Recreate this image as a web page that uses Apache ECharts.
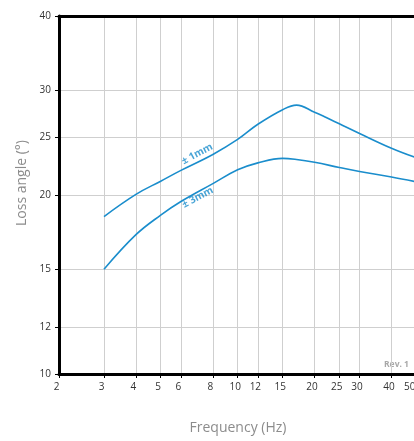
<!DOCTYPE html>
<html>
<head>
<meta charset="utf-8">
<script src="https://cdn.jsdelivr.net/npm/echarts@6/dist/echarts.min.js"></script>
<style>html,body{margin:0;padding:0;background:#fff}#c{width:414px;height:441px}</style>
</head>
<body>
<div id="c"></div>
<script>
// Data (raw values)
const xTicks = [2, 3, 4, 5, 6, 8, 10, 12, 15, 20, 25, 30, 40, 50];
const yTicks = [10, 12, 15, 20, 25, 30, 40];

const freq1mm = [3, 4, 5, 6, 8, 10, 12, 15, 17, 20, 22, 25, 30, 40, 50];
const loss1mm = [18.4, 20.05, 21.1, 22.0, 23.4, 24.8, 26.3, 27.83, 28.32, 27.55, 27.05, 26.35, 25.38, 23.97, 23.1];

const freq3mm = [3, 4, 5, 6, 8, 10, 12, 15, 17, 20, 25, 30, 40, 50];
const loss3mm = [15.0, 17.15, 18.5, 19.5, 20.9, 22.05, 22.65, 23.05, 22.95, 22.7, 22.25, 21.9, 21.45, 21.05];

const curveLabels = ['± 1mm', '± 3mm'];
const labelPosF = [6.95, 6.98];
const labelPosV = [23.44, 19.81];

const L = Math.log10;
const toPts = (xs, ys) => xs.map((x, i) => [L(x), L(ys[i])]);
const fmtX = v => {
  const s = String(Math.round(Math.pow(10, v)));
  return s === '50' ? '{e|' + s + '}' : s;
};
const fmtY = v => String(Math.round(Math.pow(10, v)));

const blue = '#1a8dcc';
const chart = echarts.init(document.getElementById('c'));
chart.setOption({
  animation: false,
  grid: { left: 59, width: 377.5, top: 16, bottom: 67, outerBoundsMode: 'none', containLabel: false },
  xAxis: [{
    type: 'value', min: L(2), max: L(60),
    axisLine: { show: true, lineStyle: { color: '#000', width: 3 } },
    axisTick: { show: true, customValues: xTicks.map(L), length: 4, lineStyle: { color: '#000', width: 1 } },
    axisLabel: { customValues: xTicks.map(L), formatter: fmtX, color: '#333', fontSize: 10, fontFamily: 'Open Sans', margin: 8, padding: [0, 5, 0, 0],
      rich: { e: { color: '#333', fontSize: 10, fontFamily: 'Open Sans', padding: [0, 8, 0, 0] } } },
    splitLine: { show: true, lineStyle: { color: '#cfcfcf', width: 1 } }
  }, {
    type: 'value', position: 'top', min: L(2), max: L(60),
    axisLine: { show: true, onZero: false, lineStyle: { color: '#000', width: 3 } },
    axisTick: { show: false }, axisLabel: { show: false }, splitLine: { show: false }
  }],
  yAxis: {
    type: 'value', min: L(10), max: L(40),
    axisLine: { show: true, lineStyle: { color: '#000', width: 3 } },
    axisTick: { show: true, customValues: yTicks.map(L), length: 4, lineStyle: { color: '#000', width: 1 } },
    axisLabel: { customValues: yTicks.map(L), formatter: fmtY, color: '#333', fontSize: 10, fontFamily: 'Open Sans', margin: 8 },
    splitLine: { show: true, lineStyle: { color: '#cfcfcf', width: 1 } }
  },
  graphic: [
    { type: 'text', x: 22, y: 183, rotation: Math.PI / 2,
      style: { text: 'Loss angle (°)', fill: '#8c8c8c', font: '14px "Open Sans"', textAlign: 'center', textVerticalAlign: 'middle' } },
    { type: 'text', x: 238, y: 428,
      style: { text: 'Frequency (Hz)', fill: '#8c8c8c', font: '14px "Open Sans"', textAlign: 'center', textVerticalAlign: 'middle' } },
    { type: 'text', x: 384, y: 360,
      style: { text: 'Rev. 1', fill: '#a8a8a8', font: 'bold 8.5px "Open Sans"', textAlign: 'left', textVerticalAlign: 'top' } }
  ],
  series: [
    { type: 'line', data: toPts(freq1mm, loss1mm), smooth: 0.4, symbol: 'none',
      lineStyle: { color: blue, width: 1.6 } },
    { type: 'line', data: toPts(freq3mm, loss3mm), smooth: 0.4, symbol: 'none',
      lineStyle: { color: blue, width: 1.6 } },
    { type: 'scatter', symbolSize: 0, silent: true,
      data: curveLabels.map((t, i) => ({ value: [L(labelPosF[i]), L(labelPosV[i])], name: t })),
      label: { show: true, position: 'inside', formatter: p => p.name, rotate: 28,
        color: blue, fontSize: 10, fontWeight: 'bold', fontFamily: 'Open Sans' } }
  ]
});
</script>
</body>
</html>
